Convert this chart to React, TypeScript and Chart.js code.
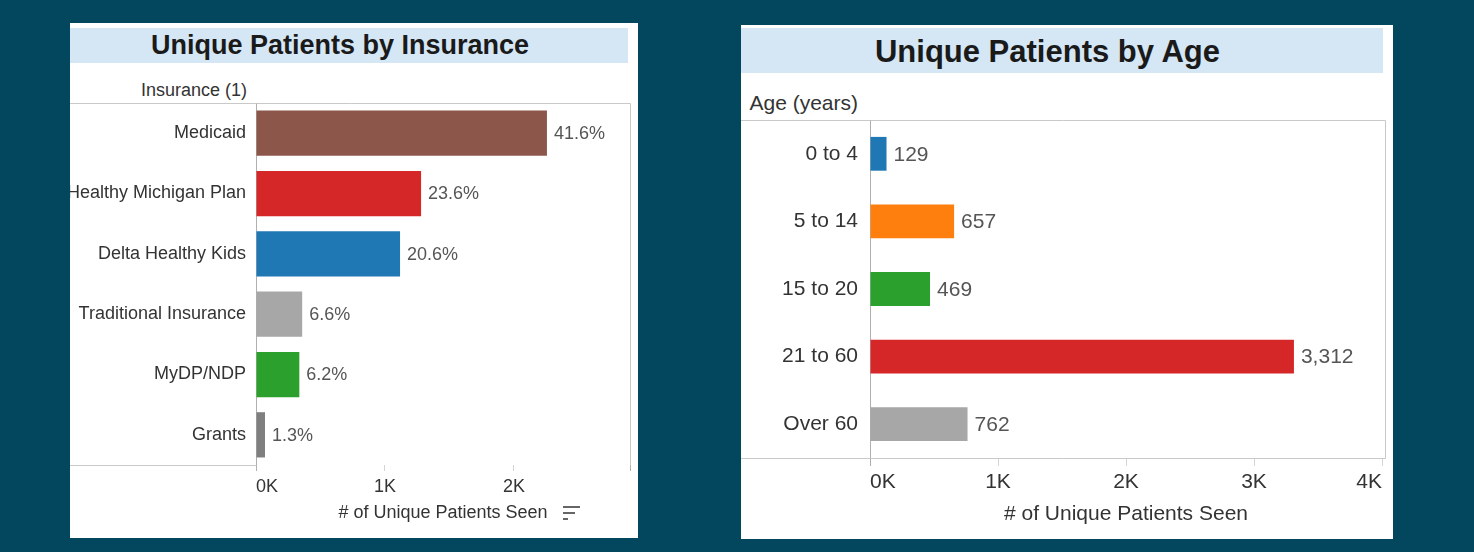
import React, { useEffect, useRef } from 'react';
import { Chart, registerables } from 'chart.js';

Chart.register(...registerables);

const FONT = '"Liberation Sans", Arial, Helvetica, sans-serif';

// ---------- Data: insurance ----------
const insuranceCategories = [
  'Medicaid',
  'Healthy Michigan Plan',
  'Delta Healthy Kids',
  'Traditional Insurance',
  'MyDP/NDP',
  'Grants',
];
const insuranceValues = [2256, 1280, 1117, 358, 336, 70];
const insuranceLabels = ['41.6%', '23.6%', '20.6%', '6.6%', '6.2%', '1.3%'];
const insuranceColors = ['#8c564b', '#d62728', '#1f77b4', '#a7a7a7', '#2ca02c', '#7f7f7f'];
const insuranceTicks = [0, 1000, 2000];
const insuranceMax = 2900;

// ---------- Data: age ----------
const ageCategories = ['0 to 4', '5 to 14', '15 to 20', '21 to 60', 'Over 60'];
const ageValues = [129, 657, 469, 3312, 762];
const ageLabels = ageValues.map((v) => v.toLocaleString('en-US'));
const ageColors = ['#1f77b4', '#ff7f0e', '#2ca02c', '#d62728', '#a7a7a7'];
const ageTicks = [0, 1000, 2000, 3000, 4000];
const ageMax = 4000;

type Params = {
  categories: string[];
  values: number[];
  labels: string[];
  colors: string[];
  tickValues: number[];
  max: number;
  font: number;
  yWidth: number;
  padTop: number;
  padRight: number;
  xHeight: number;
  barPct: number;
  tickLen: number;
  tickPad: number;
  titlePadBottom: number;
  yPad: number;
  frame: 'left' | 'right';
};

const FRAME = '#c9c9c9';
const AXIS = '#b0b0b0';

function createChart(canvas: HTMLCanvasElement, p: Params) {
  const tickList = p.tickValues.includes(p.max) ? p.tickValues : [...p.tickValues, p.max];

  const framePlugin = {
    id: 'frame' + p.frame,
    beforeDatasetsDraw(chart: any) {
      const { ctx, chartArea } = chart;
      const { left, right, top, bottom } = chartArea;
      ctx.save();
      ctx.lineWidth = 1;
      const line = (x1: number, y1: number, x2: number, y2: number, c: string) => {
        ctx.strokeStyle = c;
        ctx.beginPath();
        ctx.moveTo(x1, y1);
        ctx.lineTo(x2, y2);
        ctx.stroke();
      };
      const T = Math.round(top) + 0.5;
      const B = Math.round(bottom) + 0.5;
      const L = Math.round(left) + 0.5;
      if (p.frame === 'left') {
        const R = Math.round(right) + 0.5;
        line(0, T, R, T, FRAME);
        line(R, T, R, B, FRAME);
        line(0, B, L, B, FRAME);
      } else {
        const R = Math.round(right) + 3.5;
        line(0, T, R, T, FRAME);
        line(0, B, R, B, FRAME);
        line(R, T, R, B, FRAME);
      }
      line(L, T, L, B, AXIS);
      ctx.restore();
    },
  };

  const valueLabelPlugin = {
    id: 'valueLabels' + p.frame,
    afterDatasetsDraw(chart: any) {
      const ctx = chart.ctx;
      const meta = chart.getDatasetMeta(0);
      ctx.save();
      ctx.font = `${p.font}px ${FONT}`;
      ctx.fillStyle = '#555555';
      ctx.textAlign = 'left';
      ctx.textBaseline = 'middle';
      meta.data.forEach((el: any, i: number) => {
        ctx.fillText(p.labels[i], el.x + 7, el.y + 1);
      });
      ctx.restore();
    },
  };

  return new Chart(canvas, {
    type: 'bar',
    data: {
      labels: p.categories,
      datasets: [
        {
          data: p.values,
          backgroundColor: p.colors,
          borderWidth: 0,
          categoryPercentage: 1,
          barPercentage: p.barPct,
        },
      ],
    },
    options: {
      indexAxis: 'y',
      responsive: false,
      animation: false,
      events: [],
      layout: { padding: { top: p.padTop, right: p.padRight, left: 0, bottom: 0 } },
      plugins: { legend: { display: false }, tooltip: { enabled: false } },
      scales: {
        x: {
          type: 'linear',
          min: 0,
          max: p.max,
          afterBuildTicks: (s: any) => {
            s.ticks = tickList.map((v) => ({ value: v }));
          },
          afterFit: (s: any) => {
            s.height = p.xHeight;
          },
          grid: {
            display: true,
            drawOnChartArea: false,
            drawTicks: true,
            tickLength: p.tickLen,
            tickWidth: 1,
            tickColor: (c: any) =>
              c.tick && (c.tick.value === 0 || c.tick.value === p.max && p.frame === 'left') ? AXIS : '#d4d4d4',
          },
          border: { display: false },
          ticks: {
            align: 'inner',
            padding: p.tickPad,
            autoSkip: false,
            maxRotation: 0,
            color: '#333333',
            font: { family: FONT, size: p.font },
            callback: (v: any) => (p.tickValues.includes(Number(v)) ? `${Number(v) / 1000}K` : ''),
          },
          title: {
            display: true,
            text: '# of Unique Patients Seen',
            color: '#333333',
            font: { family: FONT, size: p.font },
            padding: { top: 0, bottom: p.titlePadBottom },
          },
        },
        y: {
          type: 'category',
          afterFit: (s: any) => {
            s.width = p.yWidth;
          },
          grid: { display: false, drawTicks: false },
          border: { display: false },
          ticks: {
            padding: p.yPad,
            color: '#333333',
            font: { family: FONT, size: p.font },
          },
        },
      },
    } as any,
    plugins: [framePlugin, valueLabelPlugin],
  });
}

function ChartCanvas(props: { params: Params; width: number; height: number; left: number; top: number }) {
  const ref = useRef<HTMLCanvasElement | null>(null);
  useEffect(() => {
    if (!ref.current) return;
    const chart = createChart(ref.current, props.params);
    return () => chart.destroy();
  }, []);
  return (
    <canvas
      ref={ref}
      width={props.width}
      height={props.height}
      style={{ position: 'absolute', left: props.left, top: props.top, width: props.width, height: props.height, display: 'block' }}
    />
  );
}

const insuranceParams: Params = {
  categories: insuranceCategories,
  values: insuranceValues,
  labels: insuranceLabels,
  colors: insuranceColors,
  tickValues: insuranceTicks,
  max: insuranceMax,
  font: 18,
  yWidth: 186,
  padTop: 39,
  padRight: 8,
  xHeight: 73,
  barPct: 0.75,
  tickLen: 6,
  tickPad: 5,
  titlePadBottom: 14,
  yPad: 10,
  frame: 'left',
};

const ageParams: Params = {
  categories: ageCategories,
  values: ageValues,
  labels: ageLabels,
  colors: ageColors,
  tickValues: ageTicks,
  max: ageMax,
  font: 21,
  yWidth: 129,
  padTop: 47,
  padRight: 11,
  xHeight: 81,
  barPct: 0.5,
  tickLen: 8,
  tickPad: 4,
  titlePadBottom: 12,
  yPad: 12,
  frame: 'right',
};

export default function App() {
  return (
    <div
      style={{
        position: 'fixed',
        left: 0,
        top: 0,
        width: 1474,
        height: 552,
        background: '#03475f',
        overflow: 'hidden',
        fontFamily: FONT,
      }}
    >
      {/* Left panel */}
      <div style={{ position: 'absolute', left: 70, top: 23, width: 568, height: 515, background: '#ffffff', overflow: 'hidden' }}>
        <div style={{ position: 'absolute', left: 0, top: 5, width: 558, height: 35, background: '#d5e6f4' }} />
        <div
          style={{
            position: 'absolute',
            left: 0,
            top: 5,
            width: 540,
            height: 35,
            lineHeight: '35px',
            textAlign: 'center',
            fontWeight: 'bold',
            fontSize: 27,
            color: '#1a1a1a',
            whiteSpace: 'nowrap',
          }}
        >
          Unique Patients by Insurance
        </div>
        <div
          style={{
            position: 'absolute',
            left: 0,
            top: 57,
            width: 177,
            textAlign: 'right',
            fontSize: 18,
            lineHeight: '20px',
            color: '#333333',
            whiteSpace: 'nowrap',
          }}
        >
          Insurance (1)
        </div>
        <ChartCanvas params={insuranceParams} width={568} height={474} left={0} top={41} />
        {/* sort icon */}
        <div style={{ position: 'absolute', left: 493, top: 483, width: 17, height: 2, background: '#666' }} />
        <div style={{ position: 'absolute', left: 493, top: 489, width: 12, height: 2, background: '#666' }} />
        <div style={{ position: 'absolute', left: 493, top: 495, width: 5, height: 2, background: '#666' }} />
      </div>

      {/* Right panel */}
      <div style={{ position: 'absolute', left: 741, top: 25, width: 652, height: 514, background: '#ffffff', overflow: 'hidden' }}>
        <div style={{ position: 'absolute', left: 0, top: 3, width: 642, height: 45, background: '#d5e6f4' }} />
        <div
          style={{
            position: 'absolute',
            left: 0,
            top: 3,
            width: 613,
            height: 45,
            lineHeight: '47px',
            textAlign: 'center',
            fontWeight: 'bold',
            fontSize: 31,
            color: '#1a1a1a',
            whiteSpace: 'nowrap',
          }}
        >
          Unique Patients by Age
        </div>
        <div
          style={{
            position: 'absolute',
            left: 0,
            top: 66,
            width: 117,
            textAlign: 'right',
            fontSize: 21,
            lineHeight: '24px',
            color: '#333333',
            whiteSpace: 'nowrap',
          }}
        >
          Age (years)
        </div>
        <ChartCanvas params={ageParams} width={652} height={466} left={0} top={48} />
      </div>
    </div>
  );
}
